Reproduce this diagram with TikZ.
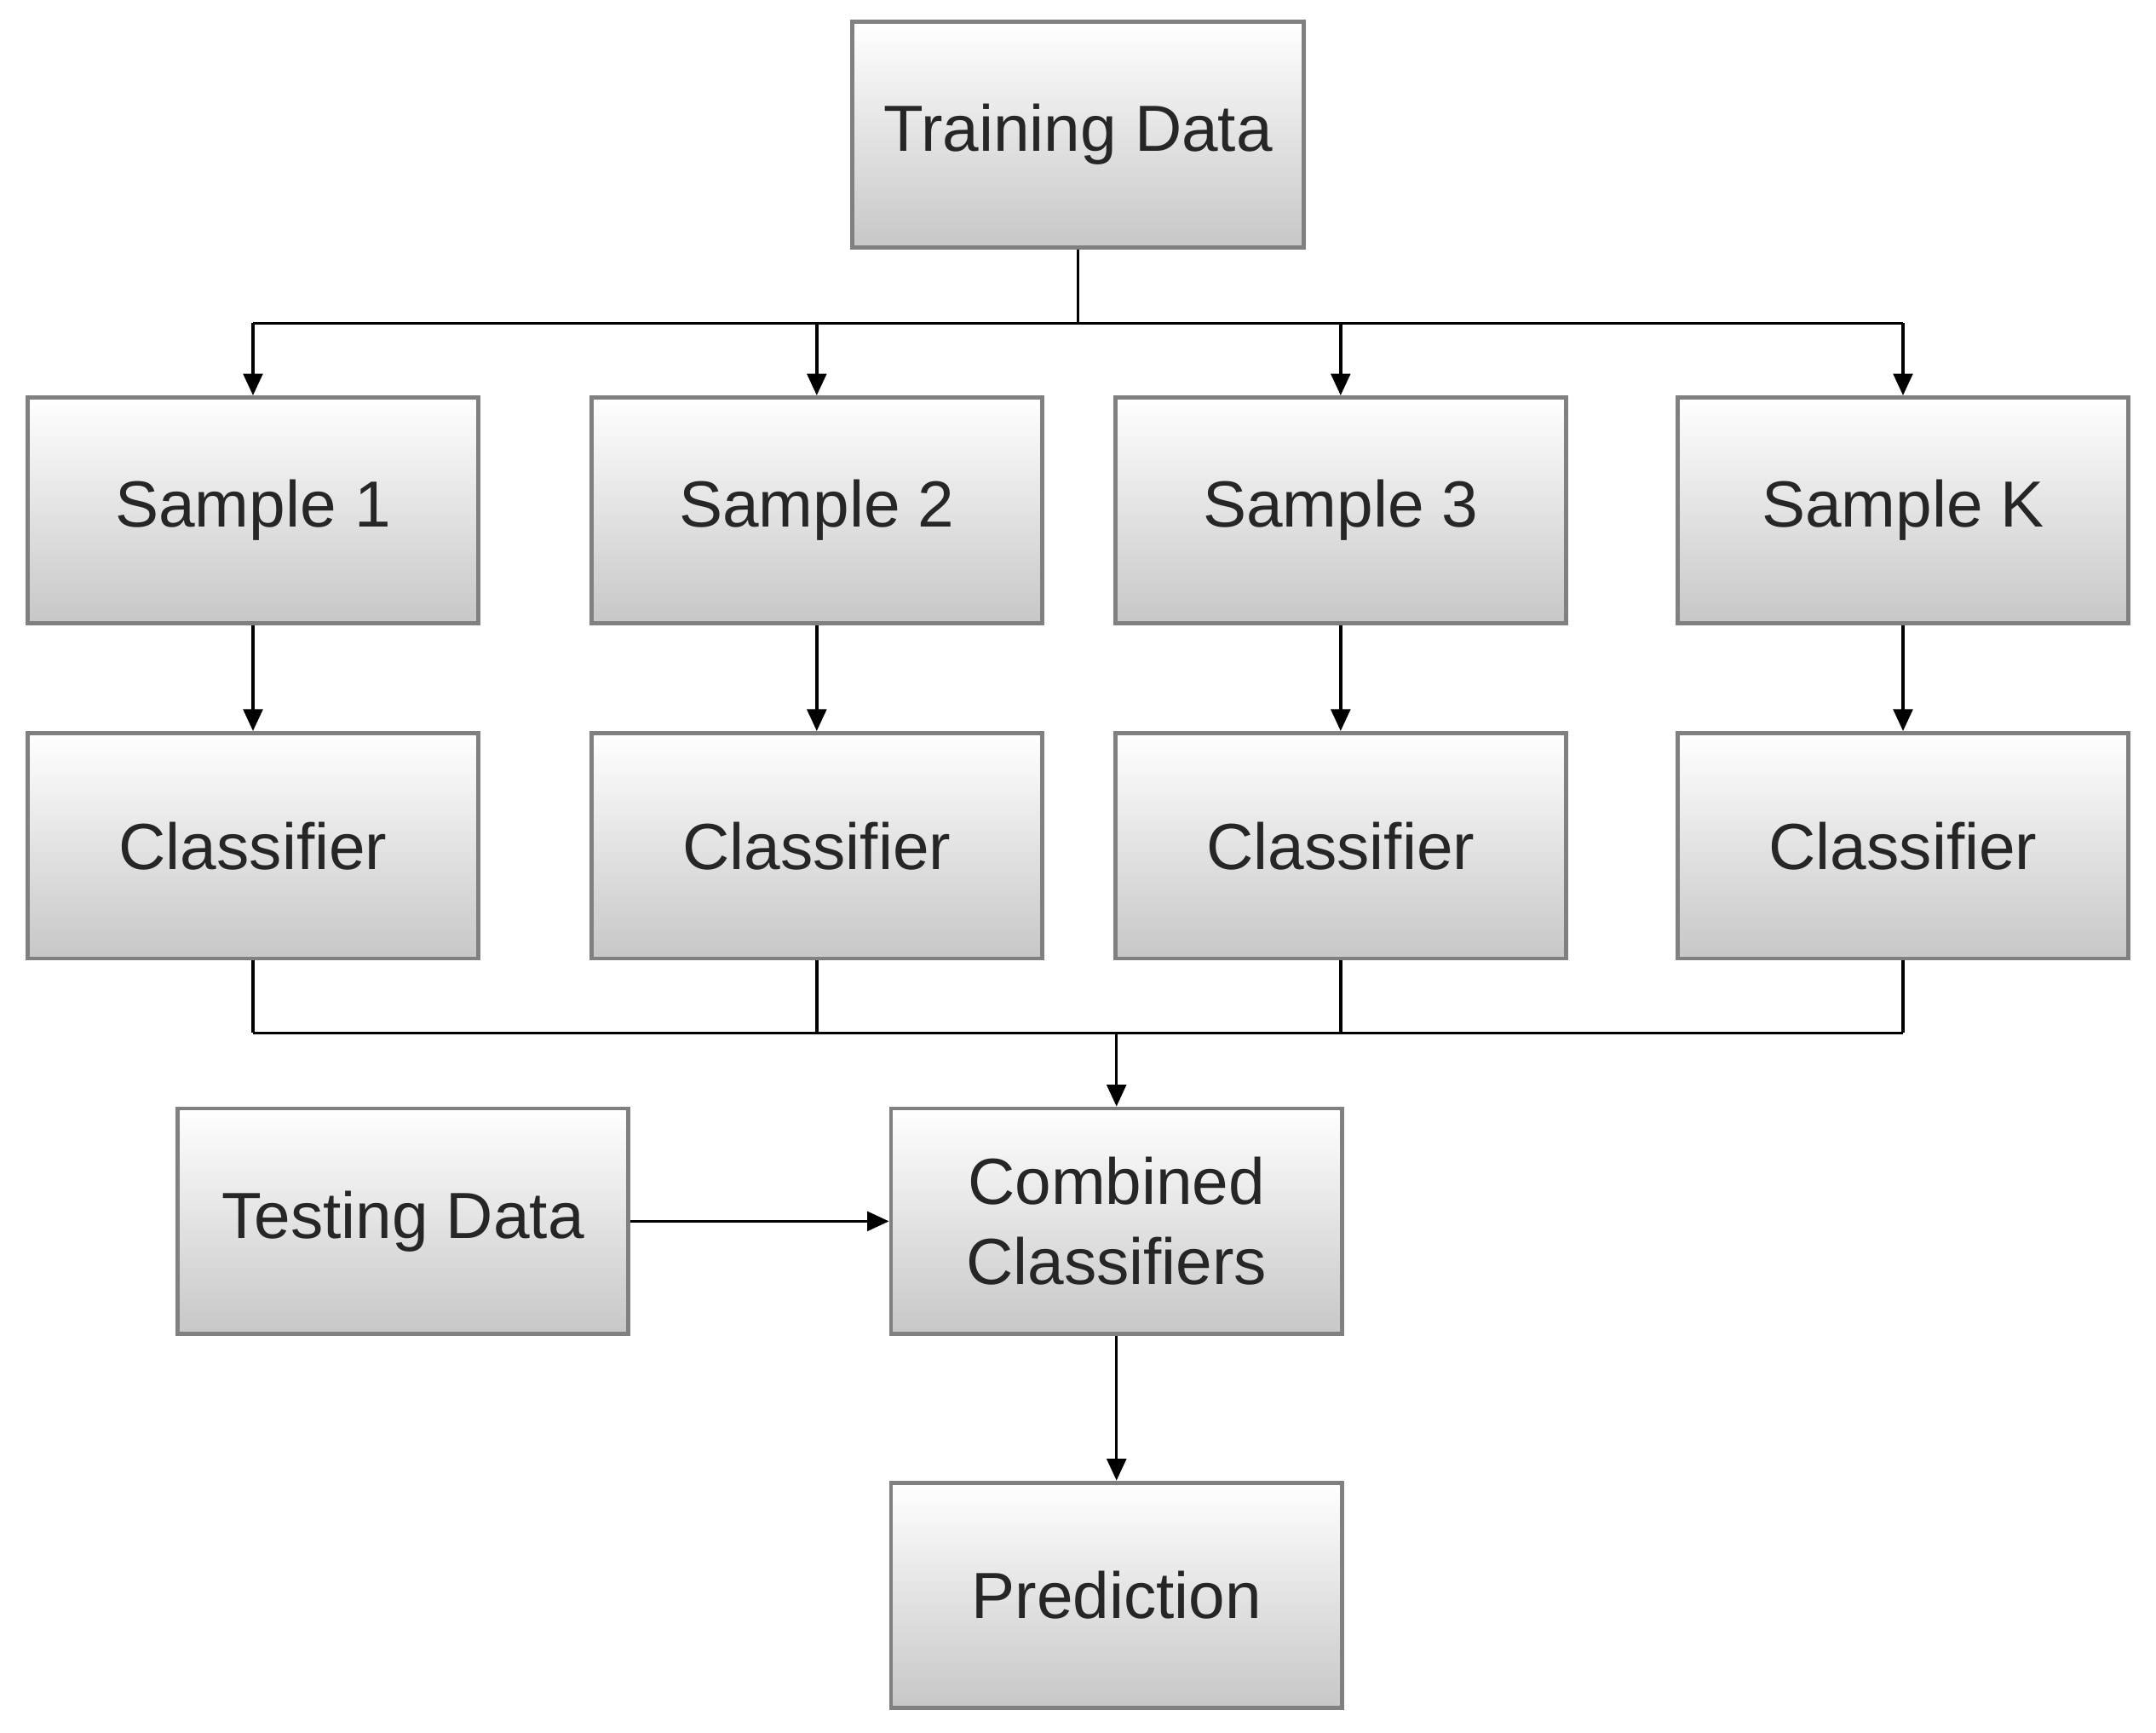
\documentclass[tikz,border=0pt]{standalone}
\usepackage{fontspec}
\setmainfont{Liberation Sans}
\usetikzlibrary{arrows.meta}
\begin{document}
\begin{tikzpicture}[x=0.02cm,y=-0.02cm,
  box/.style={draw=black!50,line width=1.7pt,top color=white,bottom color=black!22,
    minimum width=6.56cm,minimum height=3.28cm,align=center,
    font=\fontsize{27}{33}\selectfont,text=black!85},
  arr/.style={-{Triangle[length=9pt,width=8pt]},line width=1.2pt},
  ln/.style={line width=1.2pt}]
\useasboundingbox (0,0) rectangle (1568,1260);
\node[box] (td) at (784,98) {Training Data};
\node[box] (s1) at (184,371) {Sample 1};
\node[box] (s2) at (594,371) {Sample 2};
\node[box] (s3) at (975,371) {Sample 3};
\node[box] (sk) at (1384,371) {Sample K};
\node[box] (c1) at (184,615) {Classifier};
\node[box] (c2) at (594,615) {Classifier};
\node[box] (c3) at (975,615) {Classifier};
\node[box] (ck) at (1384,615) {Classifier};
\node[box] (te) at (293,888) {Testing Data};
\node[box] (cc) at (812,888) {Combined\\Classifiers};
\node[box] (pr) at (812,1160) {Prediction};
\coordinate (b1) at (784,235);
\coordinate (b2) at (812,751);
\draw[ln] (td.south) -- (b1);
\draw[ln] (184,235) -- (1384,235);
\foreach \n/\x in {s1/184,s2/594,s3/975,sk/1384}{\draw[arr] (\x,235) -- (\n.north);}
\draw[arr] (s1) -- (c1);
\draw[arr] (s2) -- (c2);
\draw[arr] (s3) -- (c3);
\draw[arr] (sk) -- (ck);
\foreach \n/\x in {c1/184,c2/594,c3/975,ck/1384}{\draw[ln] (\n.south) -- (\x,751);}
\draw[ln] (184,751) -- (1384,751);
\draw[arr] (b2) -- (cc.north);
\draw[arr] (te) -- (cc);
\draw[arr] (cc) -- (pr);
\end{tikzpicture}
\end{document}
